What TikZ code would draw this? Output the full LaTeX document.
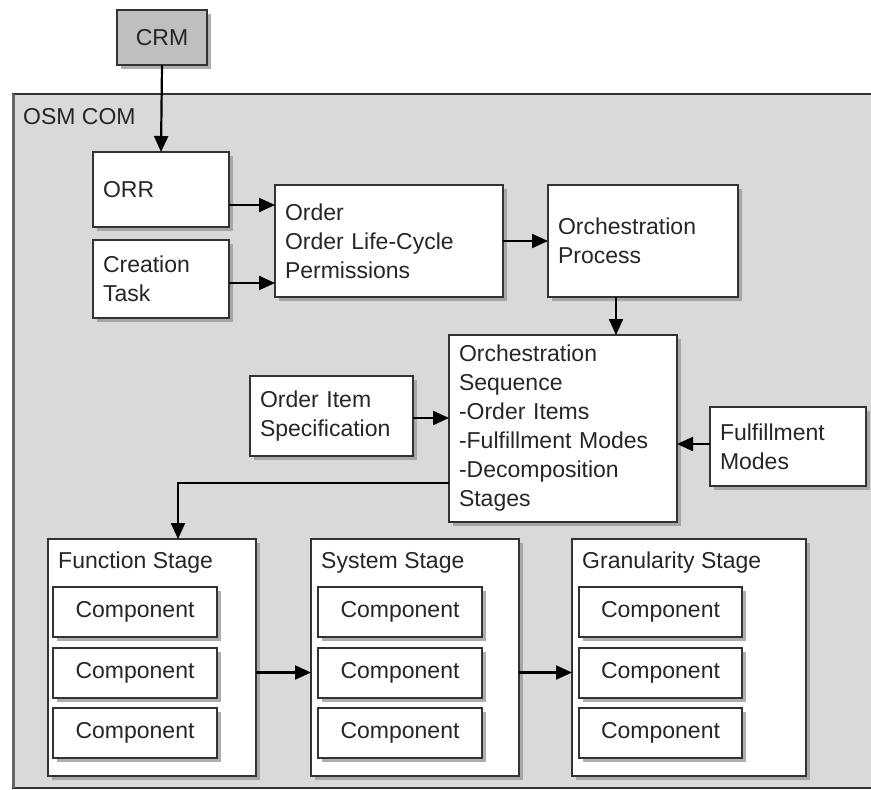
\documentclass[tikz,border=0pt]{standalone}
\usepackage{fontspec}
\setmainfont{Liberation Sans}
\usetikzlibrary{arrows.meta,shadows}
\definecolor{bggray}{HTML}{D9D9D9}
\definecolor{crmgray}{HTML}{BFBFBF}
\definecolor{edgegray}{HTML}{333333}
\definecolor{shadowgray}{HTML}{9A9A9A}
\tikzset{
  box/.style={draw=edgegray, line width=2pt, fill=white,
    drop shadow={shadow xshift=4pt, shadow yshift=-4pt, fill=shadowgray, opacity=0.8},
    font=\fontsize{23}{29}\selectfont, text=black!85, inner sep=0pt, outer sep=0pt},
  lbox/.style={box, align=left, text width=#1, inner xsep=10pt},
  arr/.style={draw=black, line width=2.2pt, -{Triangle[length=16pt,width=14pt]}},
  title/.style={font=\fontsize{23}{29}\selectfont, text=black!85, inner sep=0pt, anchor=west}
}
\begin{document}
\begin{tikzpicture}[x=1pt,y=-1pt]
\useasboundingbox (0,0) rectangle (871,790);
\clip (0,0) rectangle (871,790);
% outer container (its right side runs off the page)
\node[draw=edgegray, line width=2pt, fill=bggray, minimum width=920pt, minimum height=694pt,
      anchor=north west, inner sep=0pt, outer sep=0pt] (osm) at (13,94) {};
\draw[line width=3pt, draw=black!60] (osm.north west) -- (osm.south west);
\node[title] (osmlabel) at (23,117) {OSM COM};

% CRM
\node[box, fill=crmgray, minimum width=90pt, minimum height=55pt, align=center] (crm) at (162,37.5) {CRM};

% left column
\node[lbox=116pt, minimum height=75pt] (orr) at (161,189.5) {ORR};
\node[lbox=116pt, minimum height=78pt] (ct) at (161,279) {Creation\\Task};

% order
\node[lbox=208pt, minimum height=112pt] (order) at (389,241) {Order\\Order Life-Cycle\\Permissions};
\node[lbox=170pt, minimum height=112pt] (op) at (643,241) {Orchestration\\Process};

% orchestration sequence
\node[lbox=208pt, minimum height=187pt] (os) at (563,428.5) {Orchestration\\Sequence\\-Order Items\\-Fulfillment Modes\\-Decomposition\\Stages};
\node[lbox=143pt, minimum height=80pt] (ois) at (331.5,416) {Order Item\\Specification};
\node[lbox=136pt, minimum height=79pt] (fm) at (788,446.5) {Fulfillment\\Modes};

% stages
\node[box, minimum width=208pt, minimum height=237pt] (fs) at (152,657.5) {};
\node[box, minimum width=208pt, minimum height=237pt] (ss) at (415,657.5) {};
\node[box, minimum width=234pt, minimum height=237pt] (gs) at (689,657.5) {};
\node[title] (fst) at (58,563) {Function Stage};
\node[title] (sst) at (321,563) {System Stage};
\node[title] (gst) at (582,563) {Granularity Stage};

\foreach \n/\cx/\w in {f/135/164, s/400/164, g/660.5/163}{
  \node[box, minimum width=\w pt, minimum height=50pt, align=center] (\n1) at (\cx,612) {Component};
  \node[box, minimum width=\w pt, minimum height=50pt, align=center] (\n2) at (\cx,672.5) {Component};
  \node[box, minimum width=\w pt, minimum height=50pt, align=center] (\n3) at (\cx,733) {Component};
}

% connectors
\draw[arr] (crm.south) -- (orr.north);
\draw[arr] ([yshift=-15.5pt]orr.east) -- ([yshift=-15.5pt]orr.east -| order.west);
\draw[arr] ([yshift=-4pt]ct.east) -- ([yshift=-4pt]ct.east -| order.west);
\draw[arr] (order.east) -- (order.east -| op.west);
\draw[arr] ([xshift=-27pt]op.south) -- ([xshift=-27pt]op.south |- os.north);
\draw[arr] ([yshift=-2pt]ois.east) -- ([yshift=-2pt]ois.east -| os.west);
\draw[arr] ([yshift=2.5pt]fm.west) -- ([yshift=2.5pt]fm.west -| os.east);
\draw[arr] ([yshift=-54.5pt]os.west) -| ([xshift=26pt]fs.north);
\draw[arr] (fs.east |- f2.east) -- (ss.west |- f2.east);
\draw[arr] (ss.east |- s2.east) -- (gs.west |- s2.east);
\end{tikzpicture}
\end{document}
